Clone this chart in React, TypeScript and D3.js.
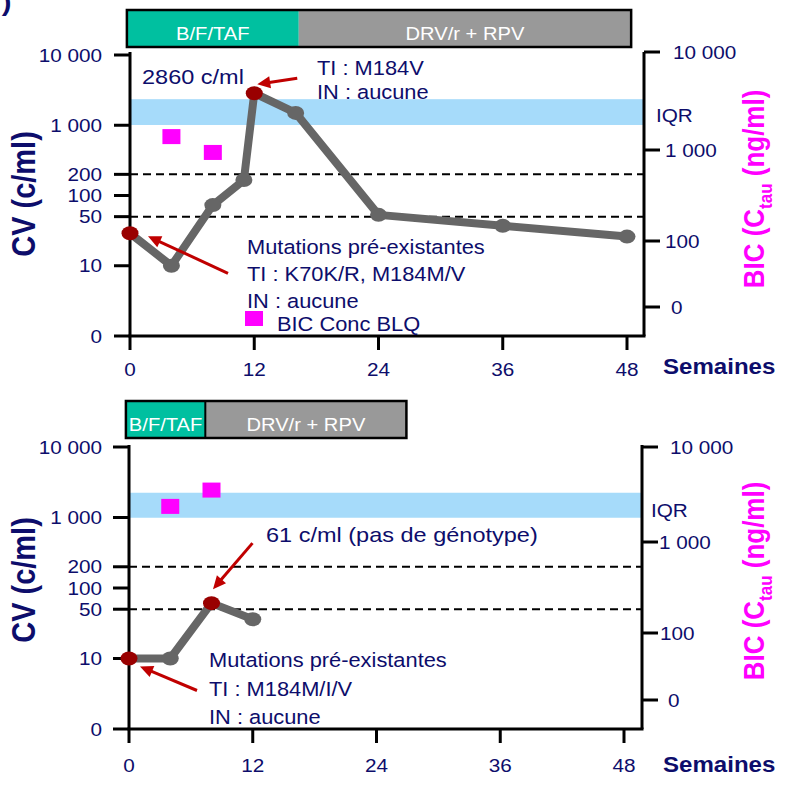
import React from 'react';
import * as d3 from 'd3';

// ---------------- data ----------------
const weeksTop = [0, 4, 8, 11, 12, 16, 24, 36, 48];
const cvTop = [29, 10, 73, 166, 2860, 1500, 53, 37, 26];
const highlightTop = [0, 4];
const weeksBottom = [0, 4, 8, 12];
const cvBottom = [10, 10, 61, 36];
const highlightBottom = [0, 2];
const bicWeeksTop = [4, 8];
const bicTop = [1370, 940];
const bicWeeksBottom = [4, 8];
const bicBottom = [2370, 3520];
const bicIQR = [1800, 3300];
const thresholds = [200, 50];
const xTicks = [0, 12, 24, 36, 48];
const leftTickValues = [1, 10, 50, 100, 200, 1000, 10000];
const leftTickLabels = ['0', '10', '50', '100', '200', '1 000', '10 000'];
const rightTickValues = [10, 100, 1000, 10000];
const rightTickLabels = ['0', '100', '1 000', '10 000'];
const treatmentLabels = ['B/F/TAF', 'DRV/r + RPV'];
const treatmentBoundsTop = [-0.3, 16.3, 48.4];
const treatmentBoundsBottom = [-0.3, 7.4, 26.9];

// ---------------- style ----------------
const NAVY = '#0d0d6b';
const PINK = '#ff00ff';
const TEAL = '#00c0a0';
const BOXGRAY = '#999999';
const LINEGRAY = '#666666';
const DARKRED = '#990000';
const ARROWRED = '#c00000';
const IQRBLUE = '#a6dbfa';
const FONT = '"Liberation Sans", Arial, sans-serif';
const SX = 1.12;

type TProps = {
  x: number; y: number; size: number; anchor?: string; weight?: string;
  fill?: string; rotate?: number; children: React.ReactNode; dy?: string;
};
function T({ x, y, size, anchor = 'start', weight = 'normal', fill = NAVY, rotate = 0, children, dy }: TProps) {
  return (
    <text
      transform={`translate(${x},${y}) scale(${SX},1)${rotate ? ` rotate(${rotate})` : ''}`}
      fontSize={size}
      fontFamily={FONT}
      fontWeight={weight}
      textAnchor={anchor}
      fill={fill}
      dy={dy}
    >
      {children}
    </text>
  );
}

function Arrow({ x1, y1, x2, y2 }: { x1: number; y1: number; x2: number; y2: number }) {
  const a = Math.atan2(y2 - y1, x2 - x1);
  const L = 13, W = 6;
  const bx = x2 - L * Math.cos(a), by = y2 - L * Math.sin(a);
  const px = -Math.sin(a), py = Math.cos(a);
  return (
    <g>
      <line x1={x1} y1={y1} x2={bx + 1 * Math.cos(a)} y2={by + 1 * Math.sin(a)} stroke={ARROWRED} strokeWidth={3} />
      <polygon points={`${x2},${y2} ${bx + W * px},${by + W * py} ${bx - W * px},${by - W * py}`} fill={ARROWRED} />
    </g>
  );
}

type PanelCfg = {
  xRange: [number, number];
  axisRight: number;
  axisTop: number;
  yRange: [number, number];
  rRange: number[];
  weeks: number[];
  cv: number[];
  highlight: number[];
  bicWeeks: number[];
  bic: number[];
  bounds: number[];
  boxTop: number;
  boxBottom: number;
  divider: boolean;
  titleY: number;
  rightTitleY: number;
  semainesY: number;
  xLabelY: number;
  tickLen: number;
  rightLabelDx: number[];
  iqrLabel: [number, number];
  children: (x: any, y: any, r: any) => React.ReactNode;
};

function Panel(p: PanelCfg) {
  const x = d3.scaleLinear().domain([0, 48]).range(p.xRange);
  const y = d3.scaleLog().domain([1, 10000]).range(p.yRange);
  const r = d3.scaleLog().domain(rightTickValues).range(p.rRange);
  const left = x(0);
  const bottom = y(1);
  const pts = p.weeks.map((w, i) => ({ w, v: p.cv[i] }));
  const line = d3.line<{ w: number; v: number }>().x(d => x(d.w)).y(d => y(d.v));

  return (
    <g>
      {/* treatment box */}
      {treatmentLabels.map((lab, i) => {
        const x0 = x(p.bounds[i]);
        const x1 = x(p.bounds[i + 1]);
        return (
          <g key={lab}>
            <rect x={x0} y={p.boxTop} width={x1 - x0} height={p.boxBottom - p.boxTop} fill={i === 0 ? TEAL : BOXGRAY} />
            <T x={(x0 + x1) / 2} y={p.boxBottom - 7} size={18} anchor="middle" fill="#ffffff">{lab}</T>
          </g>
        );
      })}
      {p.divider && (
        <line x1={x(p.bounds[1])} x2={x(p.bounds[1])} y1={p.boxTop} y2={p.boxBottom} stroke="#000" strokeWidth={2} />
      )}
      <rect x={x(p.bounds[0])} y={p.boxTop} width={x(p.bounds[2]) - x(p.bounds[0])} height={p.boxBottom - p.boxTop}
        fill="none" stroke="#000" strokeWidth={2.5} />

      {/* IQR band */}
      <rect x={left} y={r(bicIQR[1])} width={p.axisRight - left} height={r(bicIQR[0]) - r(bicIQR[1])} fill={IQRBLUE} />
      <T x={p.iqrLabel[0]} y={p.iqrLabel[1]} size={18.5}>IQR</T>

      {/* thresholds */}
      {thresholds.map(t => (
        <line key={t} x1={left} x2={p.axisRight} y1={y(t)} y2={y(t)} stroke="#000" strokeWidth={2} strokeDasharray="8,5" />
      ))}

      {/* axes */}
      <line x1={left} x2={left} y1={p.axisTop} y2={bottom} stroke="#000" strokeWidth={3} />
      <line x1={p.axisRight} x2={p.axisRight} y1={p.axisTop} y2={bottom} stroke="#000" strokeWidth={3} />
      <line x1={left - 1.5} x2={p.axisRight + 1.5} y1={bottom} y2={bottom} stroke="#000" strokeWidth={3} />
      {leftTickValues.map((v, i) => (
        <g key={v}>
          <line x1={left - 16} x2={left} y1={y(v)} y2={y(v)} stroke="#000" strokeWidth={3} />
          <T x={102} y={y(v)} size={18.5} anchor="end" dy="0.36em">{leftTickLabels[i]}</T>
        </g>
      ))}
      {rightTickValues.map((v, i) => (
        <g key={v}>
          <line x1={p.axisRight} x2={p.axisRight + 16} y1={r(v)} y2={r(v)} stroke="#000" strokeWidth={3} />
          <T x={p.axisRight + p.rightLabelDx[i]} y={r(v)} size={18.5} dy="0.36em">{rightTickLabels[i]}</T>
        </g>
      ))}
      {xTicks.map(t => (
        <g key={t}>
          <line x1={x(t)} x2={x(t)} y1={bottom} y2={bottom + p.tickLen} stroke="#000" strokeWidth={3} />
          <T x={x(t)} y={p.xLabelY} size={18.5} anchor="middle">{String(t)}</T>
        </g>
      ))}
      <T x={663} y={p.semainesY} size={21.5} weight="bold">Semaines</T>

      {/* titles */}
      <T x={35} y={p.titleY} size={29} weight="bold" anchor="middle" rotate={-90}>CV (c/ml)</T>
      <T x={764} y={p.rightTitleY} size={26} weight="bold" anchor="middle" rotate={-90} fill={PINK}>
        BIC (C<tspan fontSize={17} dy={7}>tau</tspan><tspan dy={-7}> (ng/ml)</tspan>
      </T>

      {/* BIC squares */}
      {p.bicWeeks.map((w, i) => (
        <rect key={w} x={x(w) - 9} y={r(p.bic[i]) - 7.5} width={18} height={15} fill={PINK} />
      ))}

      {/* CV line */}
      <path d={line(pts) || ''} fill="none" stroke={LINEGRAY} strokeWidth={8} strokeLinejoin="round" strokeLinecap="round" />
      {pts.map((d, i) => (
        <ellipse key={i} cx={x(d.w)} cy={y(d.v)} rx={8.5} ry={7}
          fill={p.highlight.includes(i) ? DARKRED : LINEGRAY} />
      ))}

      {p.children(x, y, r)}
    </g>
  );
}

export default function App() {
  return (
    <svg width={788} height={786} style={{ position: 'absolute', left: 0, top: 0 }}>
      <rect width={788} height={786} fill="#fff" />
      <T x={-8} y={11} size={26} weight="bold">f)</T>

      <Panel
        xRange={[130, 627]} axisRight={644} axisTop={52} yRange={[336, 55]} rRange={[307, 241, 150, 52]}
        weeks={weeksTop} cv={cvTop} highlight={highlightTop}
        bicWeeks={bicWeeksTop} bic={bicTop} bounds={treatmentBoundsTop}
        boxTop={10} boxBottom={47} divider={false}
        titleY={194} rightTitleY={189} semainesY={374} xLabelY={376} tickLen={14}
        rightLabelDx={[27, 21, 21, 29]} iqrLabel={[656, 122]}
      >
        {(x, y) => {
          const px = x(weeksTop[4]), py = y(cvTop[4]);
          const qx = x(weeksTop[0]), qy = y(cvTop[0]);
          return (
            <g>
              <T x={142} y={84} size={21}>2860 c/ml</T>
              <Arrow x1={px + 43} y1={py - 15} x2={px + 3} y2={py - 9} />
              <T x={317} y={75} size={19.5}>TI : M184V</T>
              <T x={317} y={99} size={19.5}>IN : aucune</T>
              <Arrow x1={qx + 98} y1={qy + 40} x2={qx + 18} y2={qy + 3} />
              <T x={247} y={254} size={19.5}>Mutations pré-existantes</T>
              <T x={247} y={281} size={19.5}>TI : K70K/R, M184M/V</T>
              <T x={247} y={308} size={19.5}>IN : aucune</T>
              <rect x={245} y={311} width={18} height={15} fill={PINK} />
              <T x={277} y={331} size={19.5}>BIC Conc BLQ</T>
            </g>
          );
        }}
      </Panel>

      <Panel
        xRange={[129, 624]} axisRight={642} axisTop={445} yRange={[729, 447]} rRange={[700, 633, 542, 447]}
        weeks={weeksBottom} cv={cvBottom} highlight={highlightBottom}
        bicWeeks={bicWeeksBottom} bic={bicBottom} bounds={treatmentBoundsBottom}
        boxTop={401} boxBottom={438} divider={true}
        titleY={580} rightTitleY={581} semainesY={772} xLabelY={772} tickLen={14}
        rightLabelDx={[26, 18, 17, 28]} iqrLabel={[651, 517]}
      >
        {(x, y) => {
          const px = x(weeksBottom[2]), py = y(cvBottom[2]);
          const qx = x(weeksBottom[0]), qy = y(cvBottom[0]);
          return (
            <g>
              <T x={266} y={542} size={21}>61 c/ml (pas de génotype)</T>
              <Arrow x1={px + 41} y1={py - 60} x2={px + 1.5} y2={py - 14} />
              <Arrow x1={qx + 68} y1={qy + 32} x2={qx + 11} y2={qy + 8} />
              <T x={209} y={667} size={19.5}>Mutations pré-existantes</T>
              <T x={209} y={696} size={19.5}>TI : M184M/I/V</T>
              <T x={209} y={724} size={19.5}>IN : aucune</T>
            </g>
          );
        }}
      </Panel>
    </svg>
  );
}
